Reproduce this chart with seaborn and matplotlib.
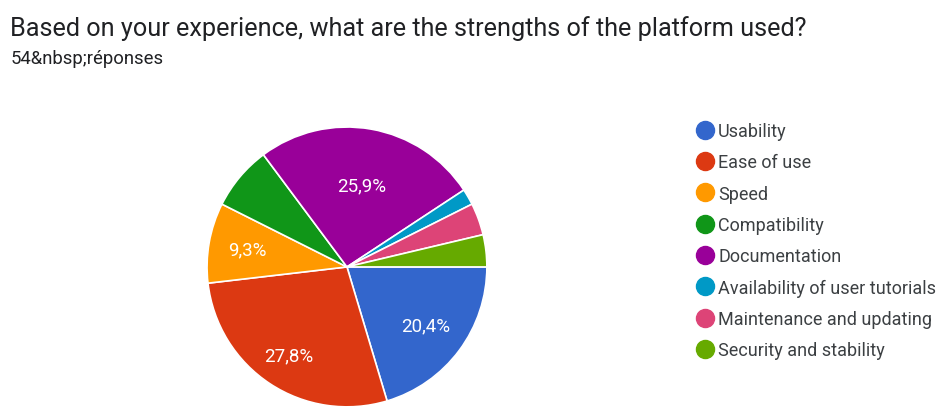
import matplotlib
matplotlib.use("Agg")
import matplotlib.pyplot as plt
from matplotlib.lines import Line2D
import numpy as np
import seaborn as sns

# Survey answers (54 responses)
labels = ["Usability", "Ease of use", "Speed", "Compatibility", "Documentation",
          "Availability of user tutorials", "Maintenance and updating",
          "Security and stability"]
counts = [11, 15, 5, 4, 14, 1, 2, 2]
colors = ["#3366CC", "#DC3912", "#FF9900", "#109618", "#990099",
          "#0099C6", "#DD4477", "#66AA00"]

title = "Based on your experience, what are the strengths of the platform used?"
subtitle = "54&nbsp;réponses"

sns.set_theme(style="white")
plt.rcParams["font.family"] = ["Roboto", "DejaVu Sans"]

fig = plt.figure(figsize=(9.39, 4.10), dpi=100)
fig.patch.set_facecolor("white")

ax = fig.add_axes([0.2205, 0.005, 0.298, 0.683])


def fmt(p):
    if p < 8:
        return ""
    return f"{p:.1f}%".replace(".", ",")


wedges, texts, autotexts = ax.pie(
    counts, colors=sns.color_palette(colors), startangle=0, counterclock=False,
    autopct=fmt, pctdistance=0.68,
    wedgeprops=dict(edgecolor="white", linewidth=1.2),
    textprops=dict(color="white", fontsize=13.5))
ax.set_xlim(-1, 1)
ax.set_ylim(-1, 1)
ax.set_aspect("equal")

# Google-style label placement: a bit further out on big slices, closer on the top one
label_dist = [0.70, 0.76, 0.72, 0.7, 0.59, 0.7, 0.7, 0.7]
for w, t, d in zip(wedges, autotexts, label_dist):
    a = np.deg2rad((w.theta1 + w.theta2) / 2)
    t.set_position((d * np.cos(a), d * np.sin(a)))

fig.text(0.011, 0.93, title, fontsize=18.2, color="#202124", va="center")
fig.text(0.011, 0.855, subtitle, fontsize=13.3, color="#202124", va="center")

handles = [Line2D([0], [0], marker="o", linestyle="none", markersize=13,
                  markerfacecolor=c, markeredgecolor=c) for c in colors]
leg = fig.legend(handles, labels, loc="upper left", bbox_to_anchor=(0.733, 0.718),
                 frameon=False, fontsize=13, handletextpad=0.25,
                 labelspacing=0.74, handlelength=1.0, borderaxespad=0)
for t in leg.get_texts():
    t.set_color("#3c4043")

fig.savefig("out.png", dpi=100, facecolor="white")
